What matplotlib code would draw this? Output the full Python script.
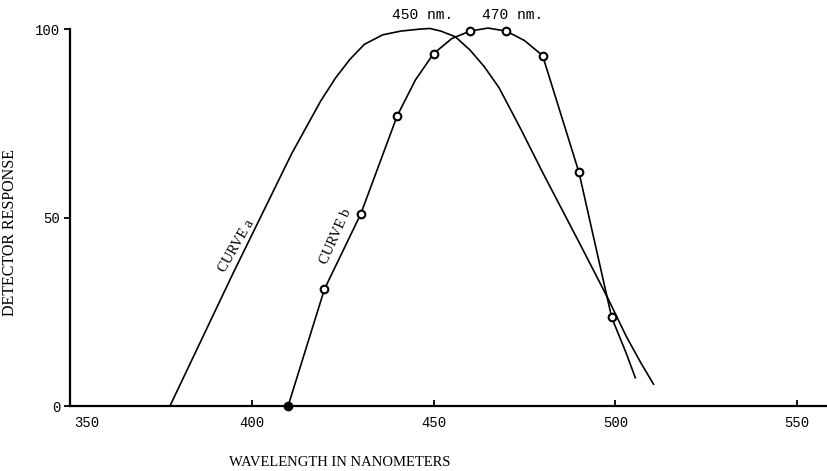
import matplotlib
matplotlib.use("Agg")
import matplotlib.pyplot as plt
import matplotlib.transforms as mtransforms

# curve a (no markers)
wl_a = [377.5, 395, 411, 419, 423, 427, 431, 436, 441, 446, 449, 452, 456,
        460, 464, 468, 474, 480, 490, 498, 503, 507, 510.5]
resp_a = [0, 35.5, 67, 81, 87, 92, 96, 98.5, 99.5, 100, 100.2, 99.5, 98,
          94.5, 90, 84.5, 73.5, 62, 43.5, 28.5, 18.5, 11.5, 5.8]

# curve b line and measured points
wl_b = [410, 420, 430, 440, 445, 450, 455, 460, 465, 470, 475, 480, 490,
        499, 503, 505.5]
resp_b = [0, 31, 51, 77, 86.5, 93.5, 97.5, 99.5, 100.3, 99.5, 97, 93, 62,
          23.5, 14, 7.5]
wl_pts = [420, 430, 440, 450, 460, 470, 480, 490, 499]
resp_pts = [31, 51, 77, 93.5, 99.5, 99.5, 93, 62, 23.5]

xticks = [350, 400, 450, 500, 550]
yticks = [0, 50, 100]

mono = "Liberation Mono"
serif = "Liberation Serif"

fig = plt.figure(figsize=(8.28, 4.71), dpi=100)
ax = fig.add_axes([0.0845, 0.138, 0.9155, 0.8])

ax.plot(wl_a, resp_a, color="black", lw=1.2, clip_on=False)
ax.plot(wl_b, resp_b, color="black", lw=1.2, clip_on=False)
ax.plot(wl_pts, resp_pts, "o", ms=5.5, mfc="white", mec="black", mew=1.5,
        clip_on=False, zorder=3)
ax.plot([410], [0], "o", ms=6, color="black", clip_on=False, zorder=4)

ax.set_xlim(350, 558.5)
ax.set_ylim(0, 100)

for s in ["top", "right"]:
    ax.spines[s].set_visible(False)
ax.spines["left"].set_linewidth(1.6)
ax.spines["bottom"].set_linewidth(1.6)

ax.set_xticks(xticks)
ax.set_xticklabels([str(t) for t in xticks], family=mono, fontsize=10)
ax.set_yticks(yticks)
ax.set_yticklabels([str(t) for t in yticks], family=mono, fontsize=10)
ax.tick_params(axis="x", direction="in", length=4, width=1.3, pad=7)
ax.tick_params(axis="y", direction="out", length=4, width=1.3, pad=3)

# the 350 label sits right of the axis corner
lbl = ax.get_xticklabels()[0]
lbl.set_transform(lbl.get_transform() +
                  mtransforms.ScaledTranslation(0.17, 0, fig.dpi_scale_trans))
ax.xaxis.get_major_ticks()[0].tick1line.set_visible(False)

ax.set_xlabel("WAVELENGTH IN NANOMETERS", family=serif, fontsize=10.5)
ax.xaxis.set_label_coords(0.356, -0.133)
ax.set_ylabel("DETECTOR RESPONSE", family=serif, fontsize=11.5)
ax.yaxis.set_label_coords(-0.069, 0.46)

ax.text(447.1, 103.7, "450 nm.", family=mono, fontsize=10.5,
        ha="center", va="center", clip_on=False)
ax.text(471.7, 103.7, "470 nm.", family=mono, fontsize=10.5,
        ha="center", va="center", clip_on=False)

ax.text(395.8, 42.5, "CURVE a", family=serif, fontsize=10.5, rotation=60,
        ha="center", va="center")
ax.text(423.2, 45, "CURVE b", family=serif, fontsize=10.5, rotation=66,
        ha="center", va="center")

fig.savefig("out.png", dpi=100)
